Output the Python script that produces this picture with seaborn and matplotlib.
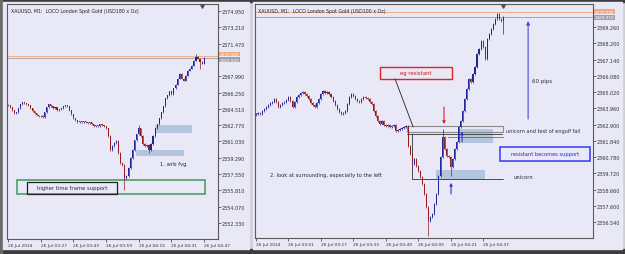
import numpy as np
import pandas as pd
import matplotlib
matplotlib.use("Agg")
import matplotlib.pyplot as plt
import seaborn as sns
from matplotlib.patches import Rectangle

sns.set_style("white")
plt.rcParams['font.family'] = ['DejaVu Sans']

# ---------------- data ----------------
LEFT_TITLE = "XAUUSD, M1:  LOCO London Spot Gold (USD180 x Oz)"
RIGHT_TITLE = "XAUUSD, M1:  LOCO London Spot Gold (USD100 x Oz)"

left_first_open = 2364.95
left_close = [
    2364.88, 2364.66, 2364.35, 2364.03, 2364.13, 2364.56, 2364.98, 2365.19, 2365.09, 2364.98,
    2364.88, 2364.56, 2364.24, 2364.03, 2363.81, 2363.71, 2363.76, 2363.60, 2364.13, 2364.66,
    2364.98, 2364.77, 2364.56, 2364.66, 2364.35, 2364.45, 2364.56, 2364.77, 2364.88, 2364.77,
    2364.35, 2363.92, 2363.50, 2363.29, 2363.07, 2363.18, 2363.07, 2363.18, 2363.07, 2362.97,
    2363.07, 2362.86, 2362.65, 2362.75, 2362.65, 2362.86, 2362.75, 2362.65, 2362.44, 2361.59,
    2360.10, 2360.53, 2360.85, 2361.06, 2359.79, 2358.73, 2358.51, 2357.14, 2357.35, 2358.20,
    2359.26, 2360.10, 2361.16, 2361.80, 2362.44, 2361.59, 2360.74, 2360.53, 2360.63, 2360.10,
    2360.74, 2361.59, 2362.44, 2362.86, 2363.50, 2364.13, 2364.77, 2365.62, 2365.94, 2366.36,
    2366.04, 2366.68, 2367.10, 2367.74, 2368.27, 2367.74, 2367.53, 2368.06, 2368.59, 2368.80,
    2369.12, 2369.65, 2370.07, 2369.86, 2369.54, 2369.33, 2369.93]
# notable wicks: index -> (high, low)
left_wicks = {57: (None, 2355.86), 64: (2362.75, None), 69: (None, 2359.79),
              92: (2370.39, None), 94: (None, 2368.80)}
left_bid, left_ask = 2369.93, 2370.18
left_yticks = [2374.95, 2373.21, 2371.47, 2367.99, 2366.25, 2364.51, 2362.77,
               2361.03, 2359.29, 2357.55, 2355.81, 2354.07, 2352.33]
left_xticks = [0, 16, 32, 48, 64, 80, 96]
left_xlabels = ["26 Jul 2024", "26 Jul 03:27", "26 Jul 03:43", "26 Jul 03:59",
                "26 Jul 04:15", "26 Jul 04:31", "26 Jul 04:47"]

right_first_open = 2363.55
right_close = [
    2363.59, 2363.65, 2363.59, 2363.78, 2363.91, 2364.04, 2364.17, 2364.30, 2364.37, 2364.56,
    2364.37, 2364.04, 2364.17, 2364.30, 2364.37, 2364.50, 2364.69, 2364.43, 2364.04, 2364.37,
    2364.69, 2364.82, 2364.95, 2365.02, 2364.89, 2364.76, 2364.56, 2364.30, 2364.17, 2364.04,
    2364.30, 2364.56, 2364.89, 2365.09, 2364.95, 2365.02, 2364.89, 2364.69, 2364.43, 2364.17,
    2363.91, 2363.72, 2363.59, 2363.65, 2363.78, 2364.24, 2364.69, 2364.89, 2364.76, 2364.56,
    2364.43, 2364.37, 2364.56, 2364.69, 2364.63, 2364.56, 2364.37, 2364.24, 2363.78, 2363.45,
    2363.13, 2362.93, 2363.13, 2362.87, 2362.80, 2362.87, 2362.74, 2362.80, 2362.87, 2362.48,
    2362.54, 2362.61, 2362.67, 2362.74, 2362.80, 2361.50, 2360.98, 2360.32, 2360.65, 2360.19,
    2359.87, 2359.48, 2359.02, 2358.37, 2357.52, 2356.61, 2356.87, 2357.06, 2357.71, 2358.37,
    2359.54, 2360.78, 2362.08, 2361.30, 2360.85, 2360.78, 2360.13, 2360.65, 2361.30, 2361.76,
    2362.74, 2363.13, 2363.78, 2364.56, 2365.22, 2365.87, 2365.67, 2366.19, 2366.65, 2367.50,
    2367.82, 2368.35, 2367.95, 2367.17, 2368.48, 2368.80, 2369.13, 2369.46, 2369.78, 2370.11,
    2369.78, 2369.65, 2369.91]
right_wicks = {85: (None, 2355.63), 92: (2362.61, None), 96: (None, 2359.54),
               122: (None, 2368.80)}
right_bid, right_ask = 2369.91, 2370.24
right_yticks = [2369.26, 2368.20, 2367.14, 2366.08, 2365.02, 2363.96, 2362.90,
                2361.84, 2360.78, 2359.72, 2358.66, 2357.60, 2356.54]
right_xticks = [0, 16, 32, 48, 64, 80, 96, 112]
right_xlabels = ["26 Jul 2024", "26 Jul 03:01", "26 Jul 03:17", "26 Jul 03:33",
                 "26 Jul 03:49", "26 Jul 04:05", "26 Jul 04:21", "26 Jul 04:37"]

# ---------------- style ----------------
W, H = 625, 255
BG = '#e8e8f7'
UP = '#23239a'
DN = '#921d1d'
FVG = '#b3c6de'
TXT = '#2a2a48'
FRAME = '#5a5a5a'


def build_ohlc(first_open, closes, wicks, tick=0.08):
    c = np.array(closes)
    o = np.concatenate([[first_open], c[:-1]])
    hi = np.maximum(o, c) + tick
    lo = np.minimum(o, c) - tick
    for k, (h, l) in wicks.items():
        if h is not None:
            hi[k] = h
        if l is not None:
            lo[k] = l
    return pd.DataFrame({'i': np.arange(len(c)), 'open': o, 'close': c, 'high': hi, 'low': lo})


def draw_candles(ax, df):
    up = df['close'] >= df['open']
    cols = np.where(up, UP, DN)
    ax.vlines(df['i'], df['low'], df['high'], colors=cols, lw=0.5, zorder=3)
    body = np.maximum((df['close'] - df['open']).abs(), 0.04)
    ax.bar(df['i'], body, bottom=np.minimum(df['open'], df['close']), width=0.55,
           color=cols, edgecolor='none', lw=0, zorder=4)


fig = plt.figure(figsize=(W / 100, H / 100), dpi=100)
fig.patch.set_facecolor('#cfcfd2')


def figrect(x0, y0, x1, y1, color):
    fig.patches.append(Rectangle((x0 / W, 1 - y1 / H), (x1 - x0) / W, (y1 - y0) / H,
                                 transform=fig.transFigure, color=color, zorder=-10))


figrect(0, 0, W, 3, '#3c3c3c')
figrect(0, 250, W, H, '#3c3c3c')
figrect(0, 0, 2, H, '#6a6a6a')
figrect(3, 3, 249, 250, BG)
figrect(253, 3, 622, 250, BG)


def add_axes(x0, y0, x1, y1):
    return fig.add_axes([x0 / W, 1 - y1 / H, (x1 - x0) / W, (y1 - y0) / H])


def style_axes(ax, xlim, ylim, yticks, xticks, xlabels):
    ax.set_facecolor(BG)
    ax.set_xlim(*xlim)
    ax.set_ylim(*ylim)
    for s in ax.spines.values():
        s.set_color(FRAME)
        s.set_linewidth(0.8)
        s.set_visible(True)
    ax.yaxis.tick_right()
    ax.set_yticks(yticks)
    ax.set_yticklabels([f"{v:.3f}" for v in yticks])
    ax.set_xticks(xticks)
    ax.set_xticklabels(xlabels, ha='left')
    ax.tick_params(axis='y', direction='out', length=2.2, width=0.5, pad=0.6,
                   labelsize=3.5, colors='#333333', right=True, left=False)
    ax.tick_params(axis='x', direction='out', length=2.2, width=0.5, pad=0.8,
                   labelsize=3.2, colors='#333333', bottom=True)
    ax.grid(False)


def price_lines(ax, bid, ask, last_i):
    ax.axhline(ask, color='#f3ad86', lw=0.7, zorder=2)
    ax.axhline(bid, color='#a4a4ac', lw=0.7, zorder=2)
    tr = ax.get_yaxis_transform()
    mid = (bid + ask) / 2
    ax.annotate(f"{ask:.3f}", xy=(1.0, mid), xycoords=tr, xytext=(1.3, 2.0),
                textcoords='offset points', fontsize=3.0, color='white',
                va='center', ha='left', annotation_clip=False,
                bbox=dict(boxstyle='square,pad=0.08', fc='#f3a67a', ec='none'))
    ax.annotate(f"{bid:.3f}", xy=(1.0, mid), xycoords=tr, xytext=(1.3, -2.0),
                textcoords='offset points', fontsize=3.0, color='white',
                va='center', ha='left', annotation_clip=False,
                bbox=dict(boxstyle='square,pad=0.08', fc='#a0a0a8', ec='none'))
    ax.plot([last_i], [0.99], transform=ax.get_xaxis_transform(), marker='v',
            ms=2.6, color='#505050', clip_on=False, zorder=6)


def arrow(ax, tail, head, color, lw=0.8, ms=4):
    ax.annotate('', xy=head, xytext=tail,
                arrowprops=dict(arrowstyle='-|>', color=color, lw=lw,
                                mutation_scale=ms, shrinkA=0, shrinkB=0), zorder=6)


# ---------------- left panel ----------------
ax1 = add_axes(7, 5, 218, 240)
ldf = build_ohlc(left_first_open, left_close, left_wicks)
style_axes(ax1, (-0.5, 102.8), (2350.63, 2375.69), left_yticks, left_xticks, left_xlabels)
ax1.text(1.5, 2375.0, LEFT_TITLE, fontsize=3.4, color='#202020', va='center', ha='left')

ax1.add_patch(Rectangle((72.1, 2361.91), 90.2 - 72.1, 2362.75 - 2361.91, color=FVG, zorder=1, lw=0))
ax1.add_patch(Rectangle((62.7, 2359.47), 86.3 - 62.7, 2360.10 - 2359.47, color=FVG, zorder=1, lw=0))
ax1.add_patch(Rectangle((4.4, 2355.44), 96.6 - 4.4, 2356.92 - 2355.44, fill=False,
                        ec='#3c9a5c', lw=1.1, zorder=2))
ax1.add_patch(Rectangle((9.3, 2355.44), 53.4 - 9.3, 2356.71 - 2355.44, fill=False,
                        ec='#222222', lw=0.9, zorder=2))
ax1.text(31.4, 2356.07, "higher time frame support", fontsize=3.8, color=TXT,
         ha='center', va='center', zorder=7)
ax1.text(74.5, 2358.72, "1. wrb fvg", fontsize=3.8, color=TXT, ha='left', va='center')
draw_candles(ax1, ldf)
price_lines(ax1, left_bid, left_ask, 95)

# ---------------- right panel ----------------
ax2 = add_axes(255, 5, 593, 239)
rdf = build_ohlc(right_first_open, right_close, right_wicks)
style_axes(ax2, (-0.5, 166.2), (2355.50, 2370.76), right_yticks, right_xticks, right_xlabels)
ax2.text(1.0, 2370.36, RIGHT_TITLE, fontsize=3.4, color='#202020', va='center', ha='left')

# fvg / unicorn zones
ax2.add_patch(Rectangle((100.6, 2361.69), 116.9 - 100.6, 2362.61 - 2361.69, color=FVG, zorder=1, lw=0))
ax2.add_patch(Rectangle((88.8, 2359.28), 113.0 - 88.8, 2359.93 - 2359.28, color=FVG, zorder=1, lw=0))
ax2.add_patch(Rectangle((74.5, 2362.41), 121.9 - 74.5, 2362.80 - 2362.41, fill=False,
                        ec='#8a8a8a', lw=0.8, zorder=2))
ax2.plot([74.5, 121.4], [2362.31, 2362.31], color='#333333', lw=0.6, zorder=2)
ax2.plot([94.8, 121.9], [2362.09, 2362.09], color='#555555', lw=0.5, zorder=2)
ax2.plot([77.0, 77.0, 121.9], [2362.31, 2359.35, 2359.35], color='#333333', lw=0.6, zorder=2)

# eg resistant box + leader line
ax2.add_patch(Rectangle((61.2, 2365.87), 96.7 - 61.2, 2366.65 - 2365.87, fc=BG,
                        ec='#e02424', lw=1.0, zorder=5))
ax2.text(79.0, 2366.27, "eg resistant", fontsize=3.8, color='#d01818', ha='center',
         va='center', zorder=6)
ax2.plot([68.6, 77.5], [2365.87, 2362.74], color='#222222', lw=0.6, zorder=5)
arrow(ax2, (92.7, 2364.04), (92.7, 2362.93), '#e02020', lw=0.8, ms=4)

# blue arrows
arrow(ax2, (101.6, 2361.76), (101.6, 2362.45), '#3535e0', lw=0.8, ms=4)
arrow(ax2, (96.2, 2358.37), (96.2, 2359.10), '#3535e0', lw=0.8, ms=4)
arrow(ax2, (134.2, 2363.26), (134.2, 2369.65), '#4a4ae0', lw=0.8, ms=5)

ax2.text(6.9, 2359.61, "2. look at surrounding, especially to the left", fontsize=3.7,
         color=TXT, ha='left', va='center')
ax2.text(123.3, 2362.54, "unicorn and test of engulf fail", fontsize=3.6,
         color=TXT, ha='left', va='center')
ax2.text(126.8, 2359.48, "unicorn", fontsize=3.8, color=TXT, ha='left', va='center')
ax2.text(136.2, 2365.80, "60 pips", fontsize=4.0, color=TXT, ha='left', va='center')

ax2.add_patch(Rectangle((121.0, 2360.45), 165.3 - 121.0, 2361.36 - 2360.45, fc='#c8c8d8',
                        ec='none', zorder=4))
ax2.add_patch(Rectangle((120.4, 2360.52), 164.8 - 120.4, 2361.43 - 2360.52, fc=BG,
                        ec='#3a3af0', lw=1.1, zorder=5))
ax2.text(142.6, 2360.98, "resistant becomes support", fontsize=3.7, color='#2a2ad0',
         ha='center', va='center', zorder=6)

draw_candles(ax2, rdf)
price_lines(ax2, right_bid, right_ask, 122)

fig.savefig("out.png", dpi=100, facecolor=fig.get_facecolor())
